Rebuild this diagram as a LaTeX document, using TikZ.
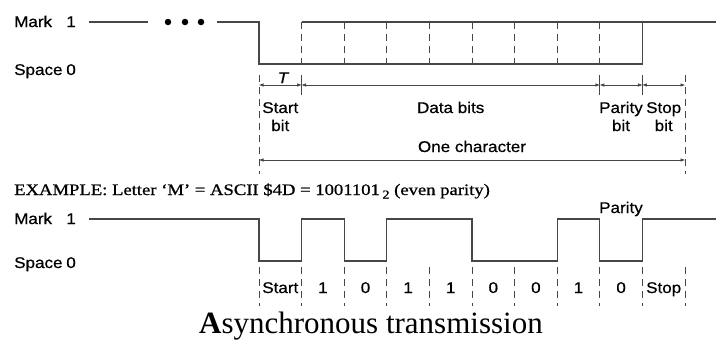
\documentclass[tikz,border=0pt]{standalone}
\usepackage{fontspec}
\setmainfont{Liberation Serif}
\setsansfont{Liberation Sans}
\newfontfamily\exfont[FakeStretch=1.165, FakeBold=0.8]{Liberation Serif}
\newfontfamily\lblfont[FakeStretch=1.1, FakeBold=0.6]{Liberation Sans}
\newfontfamily\lblitfont[FakeStretch=1.1, FakeBold=0.6]{Liberation Sans Italic}
\usetikzlibrary{arrows.meta}
\begin{document}
\begin{tikzpicture}[x=1pt,y=-1pt,
  wave/.style={line width=1.1pt, draw=black!72},
  guide/.style={line width=0.9pt, draw=black!72, dash pattern=on 7pt off 5pt},
  tickline/.style={line width=0.9pt, draw=black!72},
  dim/.style={line width=0.9pt, draw=black!72, {Triangle[length=4.5pt,width=3pt]}-{Triangle[length=4.5pt,width=3pt]}},
  lbl/.style={font=\lblfont\fontsize{15.5}{16}\selectfont, inner sep=0pt, anchor=base},
  dot/.style={circle, fill=black, inner sep=0pt, minimum size=6.5pt},
  ]
\useasboundingbox (0,0) rectangle (716,341);
% bit boundaries
\foreach \i in {0,...,10} {
  \coordinate (b\i) at ({259+42.6*\i},0);
}
% ---------- top diagram ----------
\node[lbl, anchor=base west] (m1) at (14,27) {Mark};
\node[lbl, anchor=base east] (m1v) at (76,27) {1};
\node[lbl, anchor=base west] (s1) at (14,75) {Space};
\node[lbl, anchor=base east] (s1v) at (76,75) {0};
\node[dot] (d1) at (168,22) {};
\node[dot] (d2) at (185,22) {};
\node[dot] (d3) at (201,22) {};
\draw[wave] (89,22) -- (148,22);
\draw[wave] (217,22) -- (b0|-0,22) -- (b0|-0,64) -- (b9|-0,64) -- (b9|-0,22) -- (716,22);
\draw[wave] (b1|-0,22) -- (b9|-0,22);
\foreach \i in {1,...,8} {
  \draw[guide] (b\i|-0,22) -- (b\i|-0,64);
}
% dimension lines
\draw[guide] (b0|-0,75) -- (b0|-0,174);
\draw[guide] (b10|-0,75) -- (b10|-0,174);
\foreach \i in {1,8,9} {
  \draw[tickline] (b\i|-0,75) -- (b\i|-0,95);
}
\draw[dim] (b0|-0,85) -- (b1|-0,85);
\draw[dim] (b1|-0,85) -- (b8|-0,85);
\draw[dim] (b8|-0,85) -- (b9|-0,85);
\draw[dim] (b9|-0,85) -- (b10|-0,85);
\draw[dim] (b0|-0,160) -- (b10|-0,160);
\node[lbl, font=\lblitfont\fontsize{15.5}{16}\selectfont] (T) at (283,83) {T};
\node[lbl] (st1) at (280.3,113) {Start};
\node[lbl] (st2) at (280.3,131) {bit};
\node[lbl] (db) at (450.7,113) {Data bits};
\node[lbl] (pb1) at (621,113) {Parity};
\node[lbl] (pb2) at (621,131) {bit};
\node[lbl] (sb1) at (663.7,113) {Stop};
\node[lbl] (sb2) at (663.7,131) {bit};
\node[lbl] (oc) at (472,152) {One character};
% ---------- example ----------
\node[font=\exfont\fontsize{16}{17}\selectfont, inner sep=0pt, anchor=base west] (ex) at (14,195)
  {EXAMPLE: Letter ‘M’ = ASCII \$4D = 1001101\,\raisebox{-3.5pt}{\fontsize{12}{12}\selectfont 2} (even parity)};
\node[lbl, anchor=base west] (m2) at (14,224) {Mark};
\node[lbl, anchor=base east] (m2v) at (76,224) {1};
\node[lbl, anchor=base west] (s2) at (14,268) {Space};
\node[lbl, anchor=base east] (s2v) at (76,268) {0};
\draw[wave] (89,219) -- (b0|-0,219) -- (b0|-0,261) -- (b1|-0,261) -- (b1|-0,219)
  -- (b2|-0,219) -- (b2|-0,261) -- (b3|-0,261) -- (b3|-0,219)
  -- (b5|-0,219) -- (b5|-0,261) -- (b7|-0,261) -- (b7|-0,219)
  -- (b8|-0,219) -- (b8|-0,261) -- (b9|-0,261) -- (b9|-0,219) -- (716,219);
\foreach \i in {0,...,10} {
  \draw[guide] (b\i|-0,267) -- (b\i|-0,306);
}
\node[lbl] (pl) at (621,213) {Parity};
\node[lbl] (l0) at (280.3,293) {Start};
\foreach \v [count=\k] in {1,0,1,1,0,0,1,0} {
  \node[lbl] (l\k) at ({259+42.6*\k+21.3},293) {\v};
}
\node[lbl] (l9) at (663.7,293) {Stop};
% ---------- title ----------
\node[font=\fontsize{31}{33}\selectfont, inner sep=0pt, anchor=base] (title) at (371,333)
  {\textbf{A}synchronous transmission};
\end{tikzpicture}
\end{document}
